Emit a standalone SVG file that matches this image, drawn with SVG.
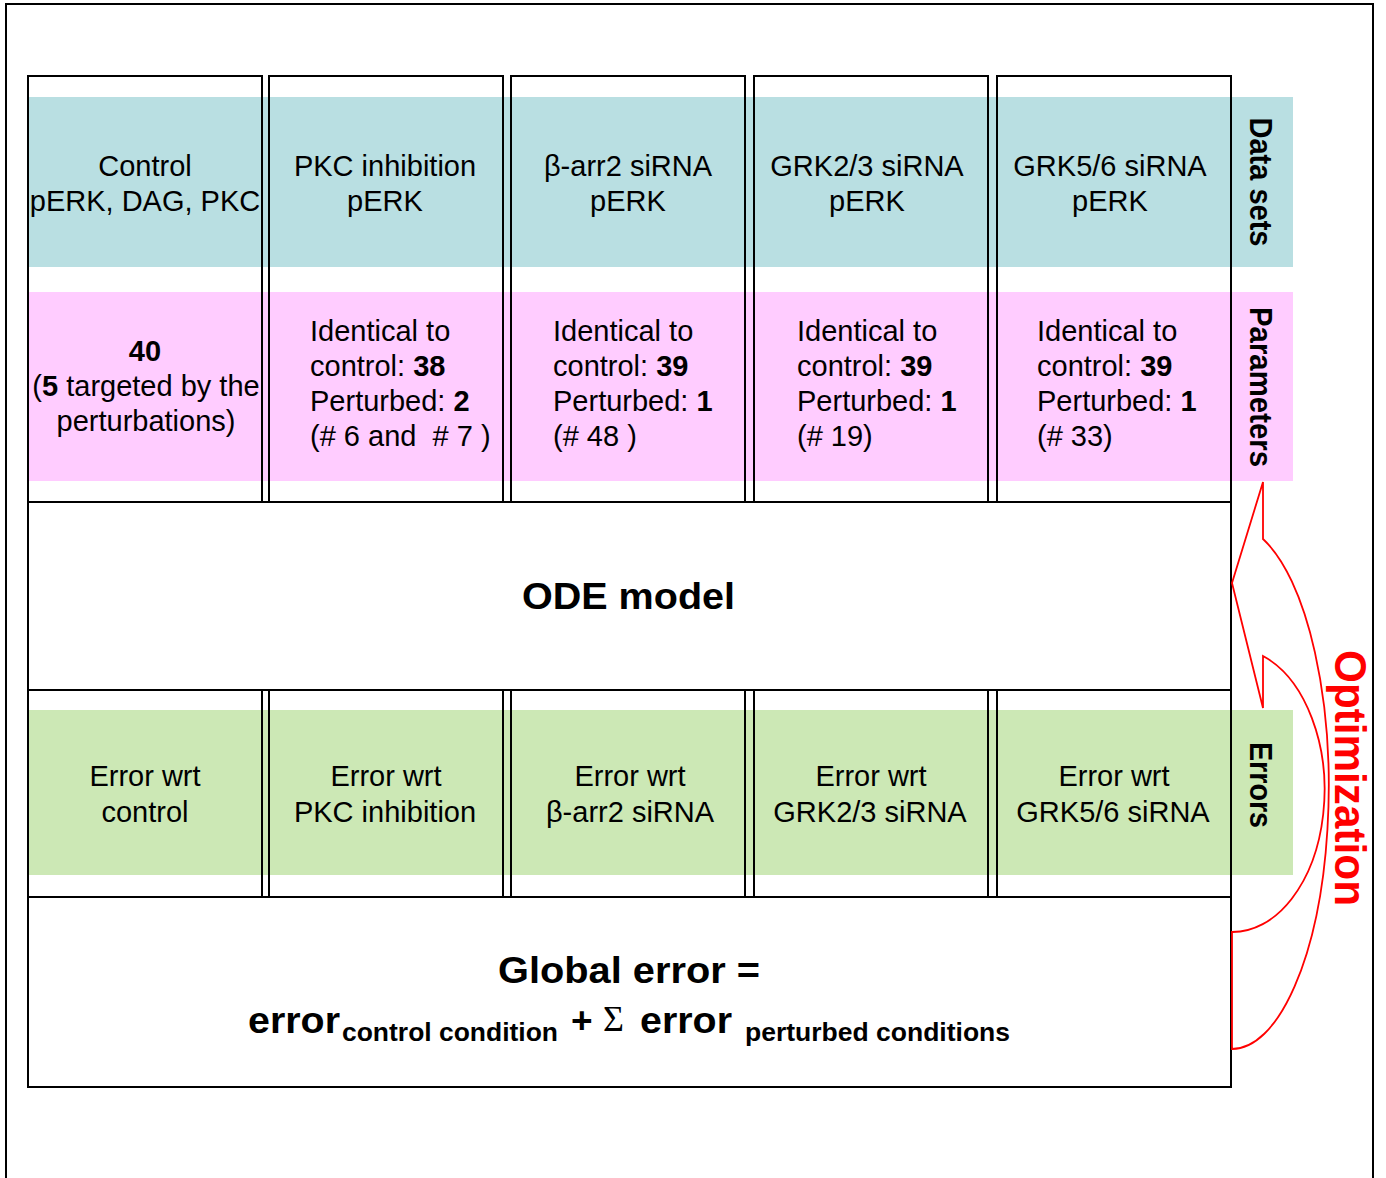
<svg xmlns="http://www.w3.org/2000/svg" width="1386" height="1178" viewBox="0 0 1386 1178">
<style>
.t{font-family:"Liberation Sans",Arial,sans-serif;font-size:29px;fill:#000}
.c{text-anchor:middle}
.b{font-weight:bold}
.box{fill:none;stroke:#000;stroke-width:2}
.lab{font-family:"Liberation Sans",Arial,sans-serif;font-weight:bold;font-size:32px;text-anchor:middle;fill:#000}
.big{font-family:"Liberation Sans",Arial,sans-serif;font-weight:bold;font-size:37px;fill:#000}
.sub{font-family:"Liberation Sans",Arial,sans-serif;font-weight:bold;font-size:25px;fill:#000}
</style>
<rect x="0" y="0" width="1386" height="1178" fill="#fff"/>
<rect x="6" y="4" width="1367" height="1200" fill="none" stroke="#000" stroke-width="2"/>

<g id="bands">
<rect x="28" y="97" width="1265" height="170" fill="#B9DFE2"/>
<rect x="28" y="292" width="1265" height="189" fill="#FFCCFF"/>
<rect x="28" y="710" width="1265" height="165" fill="#CCE8B5"/>
</g>

<g id="col1">
<rect class="box" x="28" y="76" width="234" height="426"/>
<rect class="box" x="28" y="690" width="234" height="207"/>
<text class="t c" x="145" y="176">Control</text>
<text class="t c" x="145" y="211">pERK, DAG, PKC</text>
<text class="t c b" x="145" y="361">40</text>
<text class="t c" x="146" y="396">(<tspan class="b">5</tspan> targeted by the</text>
<text class="t c" x="146" y="431">perturbations)</text>
<text class="t c" x="145" y="786">Error wrt</text>
<text class="t c" x="145" y="822">control</text>
</g>

<g id="col2">
<rect class="box" x="269" y="76" width="234" height="426"/>
<rect class="box" x="269" y="690" width="234" height="207"/>
<text class="t c" x="385" y="176">PKC inhibition</text>
<text class="t c" x="385" y="211">pERK</text>
<text class="t" x="310" y="341">Identical to</text>
<text class="t" x="310" y="376">control: <tspan class="b">38</tspan></text>
<text class="t" x="310" y="411">Perturbed: <tspan class="b">2</tspan></text>
<text class="t" x="310" y="446" xml:space="preserve">(# 6 and  # 7 )</text>
<text class="t c" x="386" y="786">Error wrt</text>
<text class="t c" x="385" y="822">PKC inhibition</text>
</g>

<g id="col3">
<rect class="box" x="511" y="76" width="234" height="426"/>
<rect class="box" x="511" y="690" width="234" height="207"/>
<text class="t c" x="628" y="176">β-arr2 siRNA</text>
<text class="t c" x="628" y="211">pERK</text>
<text class="t" x="553" y="341">Identical to</text>
<text class="t" x="553" y="376">control: <tspan class="b">39</tspan></text>
<text class="t" x="553" y="411">Perturbed: <tspan class="b">1</tspan></text>
<text class="t" x="553" y="446">(# 48 )</text>
<text class="t c" x="630" y="786">Error wrt</text>
<text class="t c" x="630" y="822">β-arr2 siRNA</text>
</g>

<g id="col4">
<rect class="box" x="754" y="76" width="234" height="426"/>
<rect class="box" x="754" y="690" width="234" height="207"/>
<text class="t c" x="867" y="176">GRK2/3 siRNA</text>
<text class="t c" x="867" y="211">pERK</text>
<text class="t" x="797" y="341">Identical to</text>
<text class="t" x="797" y="376">control: <tspan class="b">39</tspan></text>
<text class="t" x="797" y="411">Perturbed: <tspan class="b">1</tspan></text>
<text class="t" x="797" y="446">(# 19)</text>
<text class="t c" x="871" y="786">Error wrt</text>
<text class="t c" x="870" y="822">GRK2/3 siRNA</text>
</g>

<g id="col5">
<rect class="box" x="997" y="76" width="234" height="426"/>
<rect class="box" x="997" y="690" width="234" height="207"/>
<text class="t c" x="1110" y="176">GRK5/6 siRNA</text>
<text class="t c" x="1110" y="211">pERK</text>
<text class="t" x="1037" y="341">Identical to</text>
<text class="t" x="1037" y="376">control: <tspan class="b">39</tspan></text>
<text class="t" x="1037" y="411">Perturbed: <tspan class="b">1</tspan></text>
<text class="t" x="1037" y="446">(# 33)</text>
<text class="t c" x="1114" y="786">Error wrt</text>
<text class="t c" x="1113" y="822">GRK5/6 siRNA</text>
</g>

<g id="ode">
<rect class="box" x="28" y="502" width="1203" height="188"/>
<text class="big" x="522" y="609" textLength="213" lengthAdjust="spacingAndGlyphs">ODE model</text>
</g>

<g id="global">
<rect class="box" x="28" y="897" width="1203" height="190"/>
<text class="big" x="498" y="983" textLength="262" lengthAdjust="spacingAndGlyphs">Global error =</text>
<text class="big" x="248" y="1033" textLength="92" lengthAdjust="spacingAndGlyphs">error</text>
<text class="sub" x="342" y="1041" textLength="216" lengthAdjust="spacingAndGlyphs">control condition</text>
<text class="big" x="571" y="1033">+</text>
<text x="603" y="1031" style="font-family:'Liberation Serif','Times New Roman',serif;font-size:36px;fill:#000">Σ</text>
<text class="big" x="640" y="1033" textLength="92" lengthAdjust="spacingAndGlyphs">error</text>
<text class="sub" x="745" y="1041" textLength="265" lengthAdjust="spacingAndGlyphs">perturbed conditions</text>
</g>

<g id="labels">
<text class="lab" transform="translate(1250,182) rotate(90)" textLength="129" lengthAdjust="spacingAndGlyphs">Data sets</text>
<text class="lab" transform="translate(1250,387) rotate(90)" textLength="160" lengthAdjust="spacingAndGlyphs">Parameters</text>
<text class="lab" transform="translate(1250,785) rotate(90)" textLength="86" lengthAdjust="spacingAndGlyphs">Errors</text>
</g>

<g id="connectors">
<path d="M1232,932 L1232,1049 A97,262 0 0 0 1263,539 L1263,482 L1232,583 L1263,708 L1263,656 A92,142 0 0 1 1232,932 Z" fill="none" stroke="#FF0000" stroke-width="1.8" stroke-linejoin="miter"/>
</g>

<g id="optimization">
<text transform="translate(1335,778) rotate(90)" text-anchor="middle" textLength="256" lengthAdjust="spacingAndGlyphs" style="font-family:'Liberation Sans',Arial,sans-serif;font-weight:bold;font-size:44px;fill:#FF0000">Optimization</text>
</g>
</svg>
